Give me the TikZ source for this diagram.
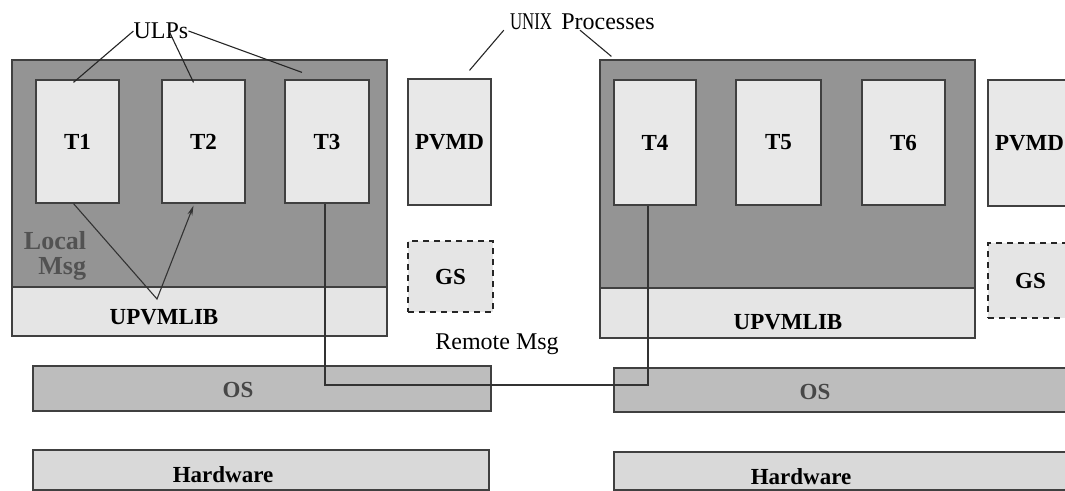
\documentclass[tikz,border=0pt]{standalone}
\usepackage{xcolor}
\usepackage{fontspec}
\setmainfont{Liberation Serif}
\usetikzlibrary{arrows.meta}

\definecolor{procgray}{gray}{0.58}
\definecolor{taskgray}{gray}{0.91}
\definecolor{libgray}{gray}{0.90}
\definecolor{osgray}{gray}{0.74}
\definecolor{hwgray}{gray}{0.85}
\definecolor{edgegray}{gray}{0.25}

\begin{document}
\begin{tikzpicture}[x=1pt,y=-1pt,
    procbox/.style={draw=edgegray,line width=1.2pt,rectangle,fill=procgray,inner sep=0pt},
    libbox/.style={draw=edgegray,line width=1.2pt,rectangle,fill=libgray,inner sep=0pt},
    taskbox/.style={draw=edgegray,line width=1.2pt,rectangle,fill=taskgray,inner sep=0pt,
        font=\fontsize{23}{26}\selectfont\bfseries},
    gsbox/.style={draw=black!85,line width=1.4pt,dashed,dash pattern=on 6pt off 5pt,rectangle,
        fill=libgray,inner sep=0pt,font=\fontsize{23}{26}\selectfont\bfseries},
    osbox/.style={draw=edgegray,line width=1.2pt,rectangle,fill=osgray,inner sep=0pt},
    hwbox/.style={draw=edgegray,line width=1.2pt,rectangle,fill=hwgray,inner sep=0pt},
    boldlbl/.style={inner sep=0pt,font=\fontsize{23}{26}\selectfont\bfseries},
    plainlbl/.style={inner sep=0pt,font=\fontsize{24}{27}\selectfont},
    pointer/.style={draw=black!85,line width=1.1pt},
    msgline/.style={draw=black!80,line width=1.1pt}]

    \useasboundingbox (0,0) rectangle (1065,490);
    \clip (0,0) rectangle (1065,490);

    % first host
    \node[procbox,minimum width=375pt,minimum height=276pt] (proc1) at (199.5,198) {};
    \node[libbox,minimum width=375pt,minimum height=49pt] (lib1) at (199.5,311.5) {};
    \node[boldlbl] (lib1txt) at (164,317) {UPVMLIB};
    \node[taskbox,minimum width=83pt,minimum height=123pt] (t1) at (77.5,141.5) {T1};
    \node[taskbox,minimum width=83pt,minimum height=123pt] (t2) at (203.5,141.5) {T2};
    \node[taskbox,minimum width=84pt,minimum height=123pt] (t3) at (327,141.5) {T3};
    \node[taskbox,minimum width=83pt,minimum height=126pt] (pvmd1) at (449.5,142) {PVMD};
    \node[gsbox,minimum width=85pt,minimum height=71pt] (gs1) at (450.5,276.5) {GS};
    \node[osbox,minimum width=458pt,minimum height=45pt] (os1) at (262,388.5) {};
    \node[boldlbl,text=black!72] (os1txt) at (238,390) {OS};
    \node[hwbox,minimum width=456pt,minimum height=40pt] (hw1) at (261,470) {};
    \node[boldlbl] (hw1txt) at (223,475) {Hardware};
    \node[boldlbl,font=\fontsize{26}{25}\selectfont\bfseries,text=black!68,align=right] (localmsg) at (55,256) {Local\\Msg};

    % second host
    \node[procbox,minimum width=375pt,minimum height=278pt] (proc2) at (787.5,199) {};
    \node[libbox,minimum width=375pt,minimum height=50pt] (lib2) at (787.5,313) {};
    \node[boldlbl] (lib2txt) at (788,322) {UPVMLIB};
    \node[taskbox,minimum width=82pt,minimum height=125pt] (t4) at (655,142.5) {T4};
    \node[taskbox,minimum width=85pt,minimum height=125pt] (t5) at (778.5,142.5) {T5};
    \node[taskbox,minimum width=83pt,minimum height=125pt] (t6) at (903.5,142.5) {T6};
    \node[taskbox,minimum width=83pt,minimum height=126pt] (pvmd2) at (1029.5,143) {PVMD};
    \node[gsbox,minimum width=85pt,minimum height=75pt] (gs2) at (1030.5,280.5) {GS};
    \node[osbox,minimum width=466pt,minimum height=44pt] (os2) at (847,390) {};
    \node[boldlbl,text=black!72] (os2txt) at (815,392) {OS};
    \node[hwbox,minimum width=466pt,minimum height=38pt] (hw2) at (847,471) {};
    \node[boldlbl] (hw2txt) at (801,477) {Hardware};

    % labels on top
    \node[plainlbl] (ulps) at (161,31) {ULPs};
    \node[plainlbl] (unix) at (531,22) {\scalebox{0.7}[1]{UNIX}};
    \node[plainlbl] (procs) at (608,22) {Processes};
    \node[plainlbl] (remote) at (497,344) {Remote Msg};

    \draw[pointer] (ulps.west) -- ([xshift=-4,yshift=-3]t1.north);
    \draw[pointer] ([xshift=8]ulps.center) -- ([xshift=-10,yshift=-3]t2.north);
    \draw[pointer] (ulps.east) -- ([xshift=-25,yshift=7]t3.north);
    \draw[pointer] ([xshift=-6]unix.south west) -- ([xshift=20,yshift=8]pvmd1.north);
    \draw[pointer] ([xshift=-28]procs.south) -- ([xshift=12,yshift=3]proc2.north west);

    % local message
    \coordinate (lmtip) at (157,299);
    \draw[msgline,-{Stealth[length=10pt,width=5pt]}] ([xshift=-4]t1.south) -- (lmtip) -- ([xshift=-10,yshift=-2]t2.south);

    % remote message
    \coordinate (rmturn) at (648,385);
    \draw[msgline] ([xshift=-2]t3.south) |- (rmturn) -- ([xshift=-7]t4.south);
\end{tikzpicture}
\end{document}
